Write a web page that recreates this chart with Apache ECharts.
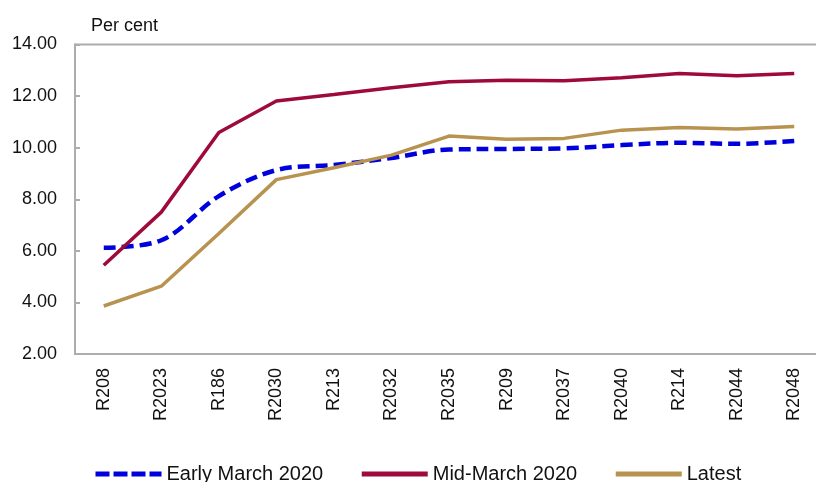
<!DOCTYPE html>
<html>
<head>
<meta charset="utf-8">
<script src="https://cdn.jsdelivr.net/npm/echarts@6/dist/echarts.min.js"></script>
<style>html,body{margin:0;padding:0;background:#fff;}#c{width:816px;height:482px;}</style>
</head>
<body>
<div id="c"></div>
<script>
const categories = ['R208','R2023','R186','R2030','R213','R2032','R2035','R209','R2037','R2040','R214','R2044','R2048'];
const earlyMarch = [6.12, 6.41, 8.12, 9.13, 9.33, 9.60, 9.93, 9.95, 9.97, 10.10, 10.19, 10.15, 10.26];
const midMarch = [5.44, 7.50, 10.59, 11.81, 12.06, 12.32, 12.56, 12.61, 12.59, 12.71, 12.88, 12.79, 12.88];
const latest = [3.86, 4.63, 6.67, 8.76, 9.22, 9.71, 10.45, 10.33, 10.36, 10.68, 10.78, 10.72, 10.82];
const seriesNames = ['Early March 2020', 'Mid-March 2020', 'Latest'];
const unitLabel = 'Per cent';

const FONT = '"Liberation Sans", Arial, sans-serif';
const chart = echarts.init(document.getElementById('c'), null, {renderer: 'canvas'});
chart.setOption({
  animation: false,
  backgroundColor: '#ffffff',
  title: {
    text: unitLabel, left: 86, top: 12,
    textStyle: {fontFamily: FONT, fontSize: 18, fontWeight: 'normal', color: '#111'}
  },
  legend: {
    left: 88, top: 459, itemGap: 36, itemWidth: 66, itemHeight: 6,
    textStyle: {fontFamily: FONT, fontSize: 20, color: '#111'},
    itemStyle: {opacity: 0},
    lineStyle: {width: 5},
    data: [
      {name: seriesNames[0], lineStyle: {type: [14, 4], width: 5}},
      {name: seriesNames[1]},
      {name: seriesNames[2]}
    ]
  },
  grid: {
    left: 75, right: -7, top: 44.5, bottom: 128,
    show: true, borderColor: '#ADADAD', borderWidth: 2,
    containLabel: false, outerBoundsMode: 'none'
  },
  xAxis: {
    type: 'category', data: categories, boundaryGap: true,
    axisLine: {lineStyle: {color: '#ADADAD', width: 2}},
    axisTick: {inside: true, length: 6, lineStyle: {color: '#ADADAD', width: 2}},
    axisLabel: {rotate: 90, margin: 14, fontFamily: FONT, fontSize: 18, color: '#111', interval: 0}
  },
  yAxis: {
    type: 'value', min: 2, max: 14, interval: 2,
    axisLine: {show: true, lineStyle: {color: '#ADADAD', width: 2}},
    axisTick: {show: true, inside: true, length: 5, lineStyle: {color: '#ADADAD', width: 2}},
    splitLine: {show: false},
    axisLabel: {margin: 18, fontFamily: FONT, fontSize: 18, color: '#111', formatter: v => v.toFixed(2)}
  },
  series: [
    {name: seriesNames[0], type: 'line', data: earlyMarch, symbol: 'none', smooth: 0.35,
     itemStyle: {color: '#0000DD'},
     lineStyle: {color: '#0000DD', width: 4.5, type: [12, 6]}},
    {name: seriesNames[1], type: 'line', data: midMarch, symbol: 'none',
     itemStyle: {color: '#9E0A3A'},
     lineStyle: {color: '#9E0A3A', width: 3.5}},
    {name: seriesNames[2], type: 'line', data: latest, symbol: 'none',
     itemStyle: {color: '#B8924F'},
     lineStyle: {color: '#B8924F', width: 3.5}}
  ]
});
</script>
</body>
</html>
